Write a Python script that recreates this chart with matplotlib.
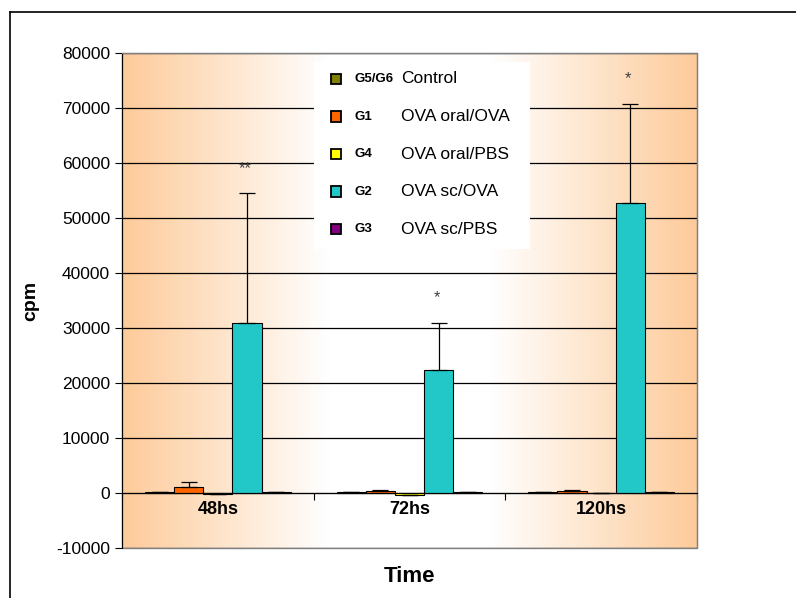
import numpy as np
import matplotlib
matplotlib.use('Agg')
import matplotlib.pyplot as plt
from matplotlib.patches import Rectangle
from matplotlib.lines import Line2D
from matplotlib.colors import LinearSegmentedColormap

plt.rcParams['font.family'] = ['Liberation Sans', 'DejaVu Sans']

categories = ['48hs', '72hs', '120hs']
groups = ['G5/G6', 'G1', 'G4', 'G2', 'G3']
names = ['Control', 'OVA oral/OVA', 'OVA oral/PBS', 'OVA sc/OVA', 'OVA sc/PBS']
colors = ['#808000', '#FF6600', '#FFFF00', '#22C8C8', '#800080']

control = [150, 150, 150]
g1 = [1150, 430, 430]
g4 = [-200, -300, 50]
g2 = [31000, 22400, 52800]
g3 = [150, 120, 150]
values = [control, g1, g4, g2, g3]

control_err = [80, 60, 60]
g1_err = [800, 150, 100]
g4_err = [0, 0, 0]
g2_err = [23500, 8600, 18000]
g3_err = [60, 60, 60]
errors = [control_err, g1_err, g4_err, g2_err, g3_err]

stars = ['**', '*', '*']

yticks = list(range(-10000, 80001, 10000))

fig = plt.figure(figsize=(7.96, 5.98), dpi=100)
ax = fig.add_axes([122 / 796, 1 - 548 / 598, 575 / 796, 495 / 598])

# background gradient orange -> white -> orange
xs = np.linspace(0, 1, 400)
t = np.clip((np.abs(xs - 0.5) * 2 - 0.28) / 0.72, 0, 1)
cmap = LinearSegmentedColormap.from_list('og', ['#FFFFFF', '#FDCB9A'])
ax.imshow(t[np.newaxis, :], extent=[-0.5, 2.5, -10000, 80000], aspect='auto',
          cmap=cmap, vmin=0, vmax=1, zorder=0)

x = np.arange(len(categories))
w = 0.152
for i in range(len(groups)):
    pos = x + (i - 2) * w
    ax.bar(pos, values[i], width=w, color=colors[i], edgecolor='black',
           linewidth=0.8, zorder=2)
    err = np.array(errors[i])
    ax.errorbar(pos, values[i], yerr=[np.zeros_like(err), err], fmt='none',
                ecolor='black', elinewidth=0.9, capsize=6, capthick=0.9, zorder=3)

for j in range(len(categories)):
    ax.text(x[j] + w - 0.01, g2[j] + g2_err[j] + 3200, stars[j], ha='center',
            va='bottom', fontsize=12, color='#404040', zorder=4)

ax.set_xlim(-0.5, 2.5)
ax.set_ylim(-10000, 80000)
ax.set_yticks(yticks)
ax.set_yticklabels([str(v) for v in yticks], fontsize=12.5)
ax.yaxis.grid(True, color='black', linewidth=0.9)
ax.set_axisbelow(True)

ax.spines['bottom'].set_position(('data', 0))
ax.spines['bottom'].set_color('black')
ax.spines['left'].set_color('black')
ax.spines['top'].set_color('#808080')
ax.spines['right'].set_color('#808080')
ax.set_xticks([-0.5, 0.5, 1.5, 2.5])
ax.set_xticklabels([])
ax.set_xticks(x, minor=True)
ax.set_xticklabels(categories, minor=True, fontsize=13, fontweight='bold')
ax.tick_params(axis='x', which='major', direction='out', length=5)
ax.tick_params(axis='x', which='minor', length=0, pad=6)
ax.tick_params(axis='y', direction='out', length=5)
ax.add_patch(Rectangle((0, 0), 1, 1, transform=ax.transAxes, fill=False,
                       edgecolor='#808080', linewidth=1, clip_on=False, zorder=1))

ax.set_ylabel('cpm', fontsize=14, fontweight='bold', labelpad=12)
ax.set_xlabel('Time', fontsize=16, fontweight='bold')
ax.xaxis.set_label_coords(0.5, -0.036)

# legend
ax.add_patch(Rectangle((0.334, 0.604), 0.376, 0.378, transform=ax.transAxes,
                       facecolor='white', edgecolor='none', zorder=5))
for i in range(len(groups)):
    yy = 0.9475 - i * 0.0758
    ax.add_patch(Rectangle((0.364, yy - 0.0105), 0.0175, 0.021, transform=ax.transAxes,
                           facecolor=colors[i], edgecolor='black', linewidth=1.3, zorder=6))
    ax.text(0.404, yy, groups[i], transform=ax.transAxes, fontsize=9.5,
            fontweight='bold', va='center', ha='left', zorder=6)
    ax.text(0.485, yy, names[i], transform=ax.transAxes, fontsize=12.5,
            va='center', ha='left', zorder=6)

# outer frame
fig.add_artist(Line2D([10 / 796, 10 / 796], [0, 1 - 12 / 598], color='black', lw=1.2))
fig.add_artist(Line2D([10 / 796, 1], [1 - 12 / 598, 1 - 12 / 598], color='black', lw=1.2))

fig.savefig('out.png', dpi=100)
